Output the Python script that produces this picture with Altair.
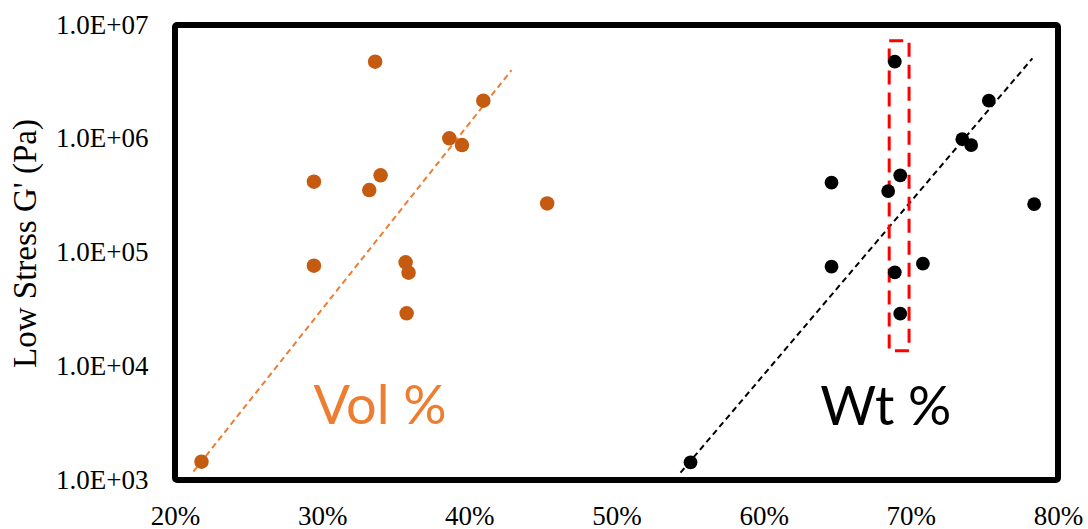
import altair as alt
import pandas as pd

# Vol % series (orange)
vol_x = [0.218, 0.336, 0.4095, 0.3864, 0.395, 0.3397, 0.2944, 0.332, 0.4529, 0.2944, 0.3567, 0.3587, 0.3574]
vol_y = [1450, 4.76e6, 2.16e6, 1.01e6, 8.8e5, 4.77e5, 4.19e5, 3.54e5, 2.7e5, 7.66e4, 8.2e4, 6.64e4, 2.92e4]

# Wt % series (black)
wt_x = [0.5503, 0.6891, 0.753, 0.735, 0.741, 0.6928, 0.6461, 0.6846, 0.7838, 0.6461, 0.7082, 0.6891, 0.6928]
wt_y = [1430, 4.76e6, 2.16e6, 9.9e5, 8.8e5, 4.77e5, 4.11e5, 3.47e5, 2.66e5, 7.5e4, 7.98e4, 6.7e4, 2.9e4]

# trend line end points
vol_trend_x = [0.2125, 0.4287]
vol_trend_y = [1183, 4.02e6]
wt_trend_x = [0.5435, 0.7826]
wt_trend_y = [1159, 5.09e6]

# highlighted box
box_x = [0.6853, 0.6988]
box_y = [1.37e4, 7.28e6]

labels = ["Vol %", "Wt %"]
label_x = [0.3393, 0.683]
label_y = [4300, 4200]
label_colors = ["#ED7D31", "#000000"]

x_ticks = [0.2, 0.3, 0.4, 0.5, 0.6, 0.7, 0.8]
y_ticks = [1e3, 1e4, 1e5, 1e6, 1e7]

xscale = alt.Scale(domain=[0.2, 0.8], nice=False, zero=False)
yscale = alt.Scale(type="log", domain=[1e3, 1e7], nice=False)

xaxis = alt.Axis(values=x_ticks, format=".0%", title=None, grid=False, ticks=False, tickSize=0,
                 domain=False, labelFont="Liberation Serif", labelFontSize=27, labelColor="#000000",
                 labelPadding=23, labelFlush=False)
yaxis = alt.Axis(values=y_ticks, title="Low Stress G' (Pa)", grid=False, ticks=False, tickSize=0,
                 domain=False, labelFont="Liberation Serif", labelFontSize=27, labelColor="#000000",
                 labelPadding=27, labelFlush=False,
                 labelExpr="'1.0E+0' + round(log(datum.value)/LN10)",
                 titleFont="Liberation Serif", titleFontSize=33, titleFontWeight="normal",
                 titleColor="#000000", titleAngle=-90, titleX=-150, titleY=218,
                 titleAlign="center", titleBaseline="middle")

vol_df = pd.DataFrame({"x": vol_x, "y": vol_y})
wt_df = pd.DataFrame({"x": wt_x, "y": wt_y})
vt_df = pd.DataFrame({"x": vol_trend_x, "y": vol_trend_y})
wtt_df = pd.DataFrame({"x": wt_trend_x, "y": wt_trend_y})
box_df = pd.DataFrame({"x": [box_x[0]], "x2": [box_x[1]], "y": [box_y[0]], "y2": [box_y[1]]})
lab_df = pd.DataFrame({"label": labels, "x": label_x, "y": label_y, "c": label_colors})

vol_trend = alt.Chart(vt_df).mark_line(color="#ED7D31", strokeWidth=2, strokeDash=[6, 4]).encode(
    x=alt.X("x:Q", scale=xscale, axis=xaxis),
    y=alt.Y("y:Q", scale=yscale, axis=yaxis),
)
wt_trend = alt.Chart(wtt_df).mark_line(color="#000000", strokeWidth=2, strokeDash=[6, 4]).encode(
    x="x:Q", y="y:Q"
)
vol_pts = alt.Chart(vol_df).mark_circle(color="#C55A11", size=210, opacity=1).encode(x="x:Q", y="y:Q")
wt_pts = alt.Chart(wt_df).mark_circle(color="#000000", size=190, opacity=1).encode(x="x:Q", y="y:Q")
box = alt.Chart(box_df).mark_rect(fill=None, fillOpacity=0, stroke="#FF0000", strokeWidth=3,
                                   strokeDash=[14, 8]).encode(x="x:Q", x2="x2", y="y:Q", y2="y2")
texts = alt.Chart(lab_df).mark_text(font="Lato", fontSize=54, align="center", baseline="middle").encode(
    x="x:Q", y="y:Q", text="label:N", color=alt.Color("c:N", scale=None)
)

chart = alt.layer(vol_trend, wt_trend, box, vol_pts, wt_pts, texts).properties(
    width=883, height=455,
    autosize=alt.AutoSizeParams(type="none"),
    padding={"left": 175, "top": 25, "right": 30, "bottom": 49},
    background="#FFFFFF",
).configure_view(stroke="#000000", strokeWidth=6, cornerRadius=2)

chart.save("out.html", embed_options={"renderer": "svg", "actions": False})
